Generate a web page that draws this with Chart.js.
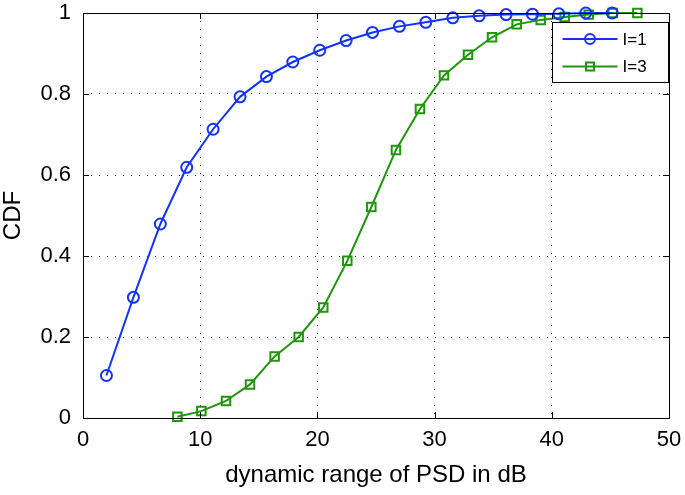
<!DOCTYPE html>
<html>
<head>
<meta charset="utf-8">
<script src="https://cdn.jsdelivr.net/npm/chart.js@4/dist/chart.umd.min.js"></script>
<style>
  body { margin: 0; background: #fff; }
  canvas { display: block; }
</style>
</head>
<body>
<canvas id="myChart" width="685" height="495"></canvas>
<script>
// data
let xTickLabels = ['0', '10', '20', '30', '40', '50'];
let yTickLabels = ['0', '0.2', '0.4', '0.6', '0.8', '1'];

let l1Label = 'I=1';
let l1X = [2.0, 4.3, 6.6, 8.85, 11.1, 13.4, 15.65, 17.9, 20.2, 22.45, 24.7, 27.0, 29.25, 31.55, 33.8, 36.1, 38.35, 40.6, 42.9, 45.15];
let l1Y = [0.105, 0.298, 0.479, 0.619, 0.713, 0.793, 0.843, 0.879, 0.908, 0.932, 0.952, 0.967, 0.977, 0.988, 0.993, 0.996, 0.997, 0.998, 1.0, 1.0];

let l3Label = 'I=3';
let l3X = [8.05, 10.1, 12.2, 14.25, 16.35, 18.4, 20.5, 22.55, 24.6, 26.7, 28.75, 30.8, 32.85, 34.9, 37.0, 39.05, 41.1, 43.15, 45.2, 47.3];
let l3Y = [0.003, 0.017, 0.042, 0.083, 0.152, 0.2, 0.273, 0.388, 0.521, 0.662, 0.763, 0.846, 0.897, 0.94, 0.972, 0.983, 0.99, 0.996, 1.0, 1.0];

const blue = 'rgb(20,50,255)';
const green = 'rgb(30,150,10)';
const font = 'Liberation Sans, Arial, Helvetica, sans-serif';

function toPoints(xs, ys){
    return xs.map((x, i) => ({x: x, y: ys[i]}));
}

// matlab style box, inward ticks and legend
const matlabBox = {
    id: 'matlabBox',
    afterDatasetsDraw(chart){
        const ctx = chart.ctx;
        const a = chart.chartArea;
        const xs = chart.scales.x, ys = chart.scales.y;
        ctx.save();
        ctx.strokeStyle = '#000';
        ctx.lineWidth = 1;
        ctx.beginPath();
        xs.ticks.forEach(t => {
            const px = Math.round(xs.getPixelForValue(t.value)) + 0.5;
            ctx.moveTo(px, a.bottom); ctx.lineTo(px, a.bottom - 6);
            ctx.moveTo(px, a.top); ctx.lineTo(px, a.top + 6);
        });
        ys.ticks.forEach(t => {
            const py = Math.round(ys.getPixelForValue(t.value)) + 0.5;
            ctx.moveTo(a.left, py); ctx.lineTo(a.left + 6, py);
            ctx.moveTo(a.right, py); ctx.lineTo(a.right - 6, py);
        });
        ctx.stroke();
        ctx.strokeRect(Math.round(a.left) + 0.5, Math.round(a.top) + 0.5,
                       Math.round(a.right - a.left), Math.round(a.bottom - a.top));

        // legend
        const bw = 116, bh = 60;
        const bx = Math.round(a.right) - bw - 0.5, by = Math.round(a.top) + 9.5;
        ctx.fillStyle = '#fff';
        ctx.fillRect(bx, by, bw, bh);
        ctx.strokeRect(bx, by, bw, bh);
        ctx.font = '17px ' + font;
        ctx.textBaseline = 'middle';
        chart.data.datasets.forEach((ds, i) => {
            const ly = by + 16.5 + i * 27.5;
            ctx.strokeStyle = ds.borderColor;
            ctx.lineWidth = 2;
            ctx.beginPath();
            ctx.moveTo(bx + 10, ly); ctx.lineTo(bx + 65, ly);
            ctx.stroke();
            const mx = bx + 37.5;
            ctx.beginPath();
            if (ds.pointStyle === 'circle') {
                ctx.arc(mx, ly, 5, 0, Math.PI * 2);
            } else {
                ctx.rect(mx - 4, ly - 4, 8, 8);
            }
            ctx.stroke();
            ctx.fillStyle = '#000';
            ctx.fillText(ds.label, bx + 70, ly + 1);
        });
        ctx.restore();
    }
};

function createChart(){
    const ctx = document.getElementById('myChart').getContext('2d');
    new Chart(ctx, {
        type: 'line',
        data: {
            datasets: [{
                label: l1Label,
                data: toPoints(l1X, l1Y),
                borderColor: blue,
                backgroundColor: 'rgba(0,0,0,0)',
                borderWidth: 2,
                pointStyle: 'circle',
                pointRadius: 5.5,
                pointBorderWidth: 2,
                pointBorderColor: blue,
                pointBackgroundColor: 'rgba(0,0,0,0)',
                clip: false
            }, {
                label: l3Label,
                data: toPoints(l3X, l3Y),
                borderColor: green,
                backgroundColor: 'rgba(0,0,0,0)',
                borderWidth: 2,
                pointStyle: 'rect',
                pointRadius: 6,
                pointBorderWidth: 2,
                pointBorderColor: green,
                pointBackgroundColor: 'rgba(0,0,0,0)',
                clip: false
            }]
        },
        options: {
            responsive: false,
            animation: false,
            layout: { padding: { top: 13, right: 16, left: 0, bottom: 0 } },
            plugins: {
                legend: { display: false },
                tooltip: { enabled: false }
            },
            scales: {
                x: {
                    type: 'linear',
                    min: 0, max: 50,
                    afterFit: s => { s.height = 77; s.paddingLeft = 0; s.paddingRight = 0; },
                    border: { display: false, dash: [1, 7] },
                    grid: { color: '#222', lineWidth: 1, drawTicks: false },
                    ticks: {
                        stepSize: 10,
                        padding: 9,
                        color: '#000',
                        font: { family: font, size: 22 },
                        maxRotation: 0,
                        callback: (v, i) => xTickLabels[i]
                    },
                    title: {
                        display: true,
                        text: 'dynamic range of PSD in dB',
                        color: '#000',
                        font: { family: font, size: 24 },
                        padding: { top: 0, bottom: 5 }
                    }
                },
                y: {
                    type: 'linear',
                    min: 0, max: 1,
                    afterFit: s => { s.width = 83; s.paddingTop = 0; s.paddingBottom = 0; },
                    border: { display: false, dash: [1, 7] },
                    grid: { color: '#222', lineWidth: 1, drawTicks: false },
                    ticks: {
                        stepSize: 0.2,
                        padding: 12,
                        color: '#000',
                        font: { family: font, size: 22 },
                        callback: (v, i) => yTickLabels[i]
                    },
                    title: {
                        display: true,
                        text: 'CDF',
                        color: '#000',
                        font: { family: font, size: 24, lineHeight: 1.1 },
                        padding: { top: 0, bottom: 0 }
                    }
                }
            }
        },
        plugins: [matlabBox]
    });
}

window.onload = function(){
    createChart();
}
</script>
</body>
</html>
